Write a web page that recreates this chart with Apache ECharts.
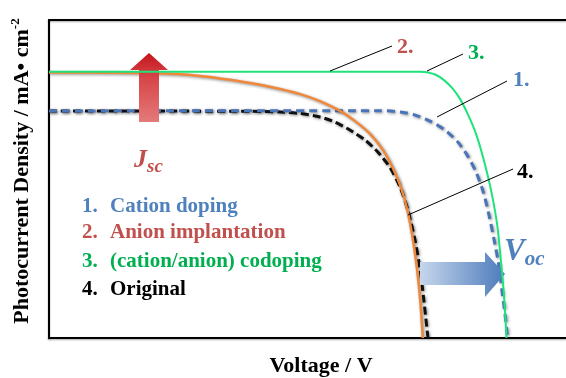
<!DOCTYPE html>
<html><head><meta charset="utf-8">
<script src="https://cdn.jsdelivr.net/npm/echarts@6/dist/echarts.min.js"></script>
<style>html,body{margin:0;padding:0;background:#fff}#c{width:566px;height:378px}</style>
</head><body><div id="c"></div>
<script>
// Series (voltage in units of the axis width, photocurrent in units of the axis height)
const seriesNames = ['1. Cation doping', '2. Anion implantation', '3. (cation/anion) codoping', '4. Original'];
const legendNumbers = ['1.', '2.', '3.', '4.'];
const legendTexts = ['Cation doping', 'Anion implantation', '(cation/anion) codoping', 'Original'];

const cationV = [0, 0.582, 0.640, 0.679, 0.708, 0.737, 0.766, 0.791, 0.810, 0.826, 0.840, 0.851, 0.861, 0.869, 0.876, 0.882, 0.887];
const cationJ = [0.714, 0.715, 0.715, 0.711, 0.701, 0.682, 0.654, 0.616, 0.572, 0.522, 0.459, 0.387, 0.308, 0.239, 0.151, 0.076, 0];

const anionV = [0, 0.195, 0.292, 0.389, 0.447, 0.486, 0.524, 0.563, 0.592, 0.621, 0.646, 0.665, 0.681, 0.694, 0.704, 0.712, 0.718, 0.723];
const anionJ = [0.835, 0.833, 0.824, 0.802, 0.783, 0.767, 0.745, 0.714, 0.682, 0.642, 0.591, 0.535, 0.472, 0.396, 0.308, 0.214, 0.120, 0];

const codopV = [0, 0.389, 0.718, 0.733, 0.749, 0.764, 0.780, 0.795, 0.810, 0.826, 0.841, 0.855, 0.867, 0.874, 0.880, 0.885];
const codopJ = [0.837, 0.837, 0.837, 0.835, 0.827, 0.811, 0.786, 0.752, 0.704, 0.642, 0.560, 0.465, 0.355, 0.245, 0.135, 0];

const origV = [0, 0.389, 0.447, 0.486, 0.524, 0.553, 0.582, 0.611, 0.636, 0.660, 0.679, 0.694, 0.708, 0.718, 0.725, 0.733];
const origJ = [0.714, 0.713, 0.711, 0.706, 0.695, 0.679, 0.654, 0.623, 0.585, 0.535, 0.475, 0.403, 0.308, 0.214, 0.120, 0];

const pairs = (xs, ys) => xs.map((x, i) => [x, ys[i]]);

const serif = '"Liberation Serif", "Times New Roman", serif';
const blueText = '#4F81BD', redText = '#C0504D', greenText = '#00B050';
const shadow = {shadowBlur: 3, shadowColor: 'rgba(0,0,0,0.45)', shadowOffsetX: 1, shadowOffsetY: 1};

const chart = echarts.init(document.getElementById('c'), null, {renderer: 'canvas'});

const axisLineStyle = {color: '#000', width: 2, shadowBlur: 2, shadowColor: 'rgba(0,0,0,0.35)', shadowOffsetY: 1};

function lineSeries(name, data, color, width, type, z, useShadow) {
  return {
    name, type: 'line', data, z,
    smooth: 0.25,
    showSymbol: false, symbol: 'none', silent: true,
    lineStyle: Object.assign({color, width, type}, useShadow ? shadow : {})
  };
}

const numColors = [blueText, redText, greenText, '#000'];
const legendY = [207, 233, 262, 290];

const graphics = [];
legendNumbers.forEach((n, i) => {
  graphics.push({type: 'text', z: 20, style: {text: n, x: 82, y: legendY[i], font: 'bold 21px ' + serif, fill: numColors[i], verticalAlign: 'middle'}});
  graphics.push({type: 'text', z: 20, style: {text: legendTexts[i], x: 110, y: legendY[i], font: 'bold 21px ' + serif, fill: numColors[i], verticalAlign: 'middle'}});
});
const curveLabels = [
  {t: '2.', c: redText, tx: 397, ty: 47, l: [330, 71, 392, 46]},
  {t: '3.', c: greenText, tx: 468, ty: 53, l: [427, 71, 463, 54]},
  {t: '1.', c: blueText, tx: 513, ty: 80, l: [437, 117, 507, 81]},
  {t: '4.', c: '#000', tx: 517, ty: 172, l: [408, 215, 513, 169]}
];
curveLabels.forEach(o => {
  graphics.push({type: 'line', z: 20, shape: {x1: o.l[0], y1: o.l[1], x2: o.l[2], y2: o.l[3]}, style: {stroke: '#000', lineWidth: 1}});
  graphics.push({type: 'text', z: 20, style: {text: o.t, x: o.tx, y: o.ty, font: 'bold 22px ' + serif, fill: o.c, verticalAlign: 'middle'}});
});
graphics.push({type: 'polygon', z: 5, shape: {points: [[139, 122], [139, 70], [130, 70], [149, 53], [168, 70], [159, 70], [159, 122]]},
  style: {fill: new echarts.graphic.LinearGradient(0, 0, 0, 1, [{offset: 0, color: '#C4141A'}, {offset: 0.35, color: '#D64448'}, {offset: 1, color: '#E47A7A'}])}});
graphics.push({type: 'text', z: 20, style: {text: '{j|J}{s|sc}', x: 134, y: 160, verticalAlign: 'middle',
  rich: {j: {font: 'italic bold 26px ' + serif, fill: redText}, s: {font: 'italic bold 19px ' + serif, fill: redText, padding: [14, 0, 0, 0]}}}});
graphics.push({type: 'polygon', z: 5, shape: {points: [[420, 262], [485, 262], [485, 252], [505, 274], [485, 297], [485, 285], [420, 285]]},
  style: {fill: new echarts.graphic.LinearGradient(0, 0, 1, 0, [{offset: 0, color: '#C6D6EB'}, {offset: 1, color: '#4C7BBC'}])}});
graphics.push({type: 'text', z: 20, style: {text: '{v|V}{s|oc}', x: 504, y: 252, verticalAlign: 'middle',
  rich: {v: {font: 'italic bold 31px ' + serif, fill: blueText}, s: {font: 'italic bold 21px ' + serif, fill: blueText, padding: [16, 0, 0, 0]}}}});
graphics.push({type: 'text', z: 20, x: 22, y: 171, rotation: Math.PI / 2,
  style: {text: '{m|Photocurrent Density / mA• cm}{p|-2}', x: 0, y: 0, align: 'center', verticalAlign: 'middle',
    rich: {m: {font: 'bold 22px ' + serif, fill: '#000'}, p: {font: 'bold 13px ' + serif, fill: '#000', padding: [0, 0, 12, 0]}}}});
graphics.push({type: 'text', z: 20, style: {text: 'Voltage / V', x: 321, y: 366, align: 'center', verticalAlign: 'middle', font: 'bold 22px ' + serif, fill: '#000'}});

chart.setOption({
  animation: false,
  backgroundColor: '#fff',
  grid: {left: 49, right: 0, top: 20, bottom: 40, containLabel: false},
  xAxis: [
    {type: 'value', min: 0, max: 1, position: 'bottom', axisLine: {show: true, onZero: false, lineStyle: axisLineStyle}, axisTick: {show: false}, axisLabel: {show: false}, splitLine: {show: false}},
    {type: 'value', min: 0, max: 1, position: 'top', axisLine: {show: true, onZero: false, lineStyle: axisLineStyle}, axisTick: {show: false}, axisLabel: {show: false}, splitLine: {show: false}}
  ],
  yAxis: {type: 'value', min: 0, max: 1, axisLine: {show: true, onZero: false, lineStyle: axisLineStyle}, axisTick: {show: false}, axisLabel: {show: false}, splitLine: {show: false}},
  series: [
    lineSeries(seriesNames[3], pairs(origV, origJ), '#111', 3, [8, 4], 2, true),
    lineSeries(seriesNames[1], pairs(anionV, anionJ), '#F0883A', 2.5, 'solid', 3, true),
    lineSeries(seriesNames[0], pairs(cationV, cationJ), '#4A74B8', 3, [8, 5], 2, true),
    lineSeries(seriesNames[2], pairs(codopV, codopJ), '#1EE27A', 2, 'solid', 10, false)
  ],
  graphic: {elements: graphics}
});
</script></body></html>
